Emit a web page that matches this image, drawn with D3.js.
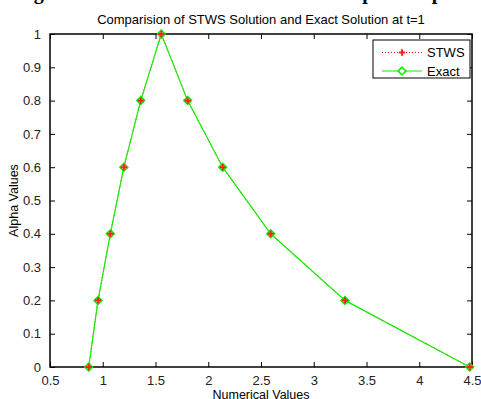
<!DOCTYPE html>
<html>
<head>
<meta charset="utf-8">
<script src="https://cdn.jsdelivr.net/npm/d3@7"></script>
<style>
  body { margin: 0; background: #fff; }
  svg { display: block; }
</style>
</head>
<body>
<div id="chart"></div>
<script>
// values
const alphaVals = [0, 0.2, 0.4, 0.6, 0.8, 1, 0.8, 0.6, 0.4, 0.2, 0];
const stwsX = [0.867, 0.955, 1.072, 1.2, 1.36, 1.555, 1.805, 2.137, 2.592, 3.296, 4.478];
const exactX = [0.867, 0.955, 1.072, 1.2, 1.36, 1.555, 1.805, 2.137, 2.592, 3.296, 4.478];
const xTicks = [0.5, 1, 1.5, 2, 2.5, 3, 3.5, 4, 4.5];
const yTicks = [0, 0.1, 0.2, 0.3, 0.4, 0.5, 0.6, 0.7, 0.8, 0.9, 1];
const seriesNames = ["STWS", "Exact"];

const W = 481, H = 399;
const margin = { left: 50, right: 9, top: 34, bottom: 32 };
const pw = W - margin.left - margin.right;
const ph = H - margin.top - margin.bottom;

const svg = d3.select("#chart").append("svg")
  .attr("width", W).attr("height", H)
  .style("font-family", "'Liberation Sans', Arial, sans-serif");

// cut-off caption from the page above the figure, only its lower edge shows
svg.append("text")
  .attr("x", W / 2).attr("y", -1)
  .attr("text-anchor", "middle")
  .style("font-family", "'Liberation Serif', 'Times New Roman', serif")
  .style("font-weight", "bold")
  .style("font-size", "20px")
  .text("Figure 3: STWS and Exact Solution comparison plot");

const x = d3.scaleLinear().domain([0.5, 4.5]).range([0, pw]);
const y = d3.scaleLinear().domain([0, 1]).range([ph, 0]);

const g = svg.append("g").attr("transform", `translate(${margin.left},${margin.top})`);

g.append("rect").attr("width", pw).attr("height", ph).attr("fill", "#fff");

// axes, ticks inward like matlab
const fmt = d => String(d);
g.append("g").attr("transform", `translate(0,${ph})`)
  .call(d3.axisBottom(x).tickValues(xTicks).tickSizeInner(-5).tickSizeOuter(0).tickPadding(9).tickFormat(fmt))
  .call(a => a.select(".domain").remove());
g.append("g")
  .call(d3.axisTop(x).tickValues(xTicks).tickSizeInner(-5).tickSizeOuter(0).tickFormat(""))
  .call(a => a.select(".domain").remove());
g.append("g")
  .call(d3.axisLeft(y).tickValues(yTicks).tickSizeInner(-5).tickSizeOuter(0).tickPadding(9).tickFormat(fmt))
  .call(a => a.select(".domain").remove());
g.append("g").attr("transform", `translate(${pw},0)`)
  .call(d3.axisRight(y).tickValues(yTicks).tickSizeInner(-5).tickSizeOuter(0).tickFormat(""))
  .call(a => a.select(".domain").remove());

g.selectAll(".tick line").attr("stroke", "#000");
g.selectAll(".tick text").attr("fill", "#222").style("font-size", "13px")
  .style("font-family", "'Liberation Sans', Arial, sans-serif");

g.append("rect").attr("width", pw).attr("height", ph)
  .attr("fill", "none").attr("stroke", "#000").attr("stroke-width", 1.5);

const stws = stwsX.map((v, i) => [v, alphaVals[i]]);
const exact = exactX.map((v, i) => [v, alphaVals[i]]);
const line = d3.line().x(d => x(d[0])).y(d => y(d[1]));

// STWS: red dotted with star markers
g.append("path").datum(stws).attr("d", line)
  .attr("fill", "none").attr("stroke", "#ff0000").attr("stroke-dasharray", "1,2");

// Exact: green solid with diamonds
g.append("path").datum(exact).attr("d", line)
  .attr("fill", "none").attr("stroke", "#11ee00").attr("stroke-width", 1.2);

const diamond = d3.symbol().type(d3.symbolSquare).size(30);
g.selectAll(".dia").data(exact).join("path")
  .attr("d", diamond)
  .attr("transform", d => `translate(${x(d[0])},${y(d[1])}) rotate(45)`)
  .attr("fill", "none").attr("stroke", "#11ee00").attr("stroke-width", 1.6);

const star = d3.symbol().type(d3.symbolCross).size(22);
g.selectAll(".star").data(stws).join("path")
  .attr("d", star)
  .attr("transform", d => `translate(${x(d[0])},${y(d[1])})`)
  .attr("fill", "#ff2020");

// title
svg.append("text")
  .attr("x", margin.left + pw / 2).attr("y", 24)
  .attr("text-anchor", "middle")
  .style("font-size", "13px")
  .text("Comparision of STWS Solution and Exact Solution at t=1");

// axis labels
svg.append("text")
  .attr("x", margin.left + pw / 2).attr("y", 399)
  .attr("text-anchor", "middle")
  .style("font-size", "12.5px")
  .text("Numerical Values");
svg.append("text")
  .attr("transform", `translate(18,${margin.top + ph / 2}) rotate(-90)`)
  .attr("text-anchor", "middle")
  .style("font-size", "12.5px")
  .text("Alpha Values");

// legend
const lg = svg.append("g").attr("transform", "translate(373,40)");
lg.append("rect").attr("width", 97).attr("height", 38)
  .attr("fill", "#fff").attr("stroke", "#000").attr("stroke-width", 1);
const rowY = [12.5, 31];
seriesNames.forEach((name, i) => {
  const r = lg.append("g").attr("transform", `translate(0,${rowY[i]})`);
  if (i === 0) {
    r.append("line").attr("x1", 9).attr("x2", 49)
      .attr("stroke", "#ff0000").attr("stroke-dasharray", "1,2");
    r.append("path").attr("d", star).attr("transform", "translate(29,0)").attr("fill", "#ff2020");
  } else {
    r.append("line").attr("x1", 9).attr("x2", 49).attr("stroke", "#11ee00").attr("stroke-width", 1.2);
    r.append("path").attr("d", diamond).attr("transform", "translate(29,0) rotate(45)")
      .attr("fill", "#fff").attr("stroke", "#11ee00").attr("stroke-width", 1.6);
  }
  r.append("text").attr("x", 54).attr("y", 4.5).style("font-size", "13px").text(name);
});
</script>
</body>
</html>
